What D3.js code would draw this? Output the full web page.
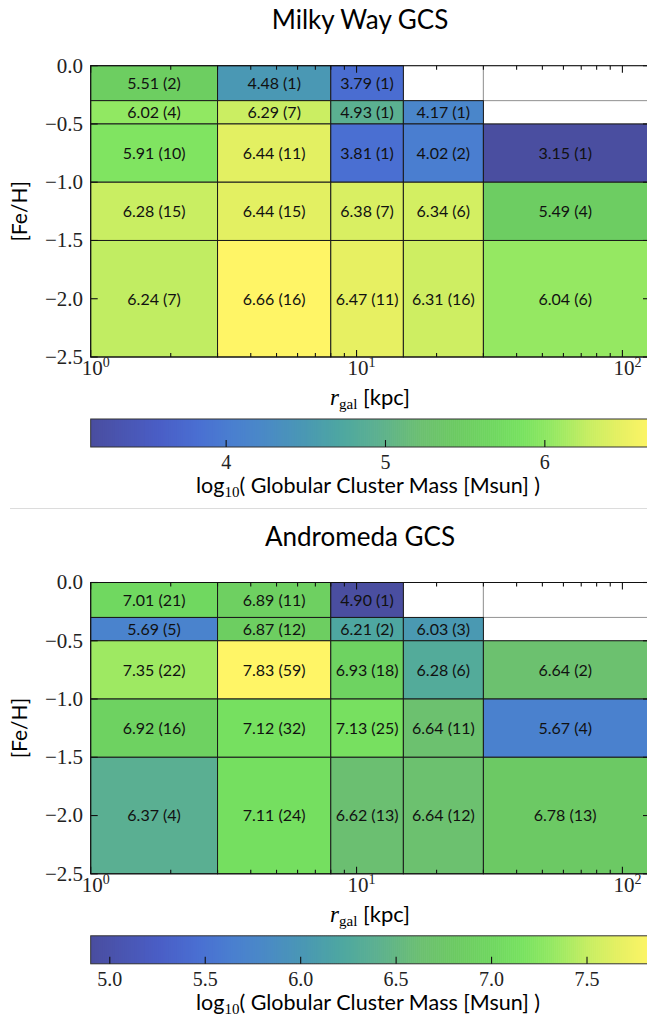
<!DOCTYPE html>
<html><head><meta charset="utf-8">
<script src="https://cdn.jsdelivr.net/npm/d3@7"></script>
<style>
html,body{margin:0;padding:0;background:#fff;overflow:hidden}
svg{display:block}
.sans{font-family:Lato,"Liberation Sans",sans-serif}
.serif{font-family:"Liberation Serif",serif}
</style></head>
<body>
<script>
// ---- data ----
const panelTitles = ["Milky Way GCS", "Andromeda GCS"];
const rEdges = [1, 3, 8, 15, 30, 127];          // r_gal bin edges [kpc] (last = axis limit)
const fehEdges = [0, -0.3, -0.5, -1.0, -1.5, -2.5]; // [Fe/H] bin edges
const mwMass = [
  [5.51, 4.48, 3.79, null, null],
  [6.02, 6.29, 4.93, 4.17, null],
  [5.91, 6.44, 3.81, 4.02, 3.15],
  [6.28, 6.44, 6.38, 6.34, 5.49],
  [6.24, 6.66, 6.47, 6.31, 6.04]
];
const mwCount = [
  [2, 1, 1, null, null],
  [4, 7, 1, 1, null],
  [10, 11, 1, 2, 1],
  [15, 15, 7, 6, 4],
  [7, 16, 11, 16, 6]
];
const m31Mass = [
  [7.01, 6.89, 4.90, null, null],
  [5.69, 6.87, 6.21, 6.03, null],
  [7.35, 7.83, 6.93, 6.28, 6.64],
  [6.92, 7.12, 7.13, 6.64, 5.67],
  [6.37, 7.11, 6.62, 6.64, 6.78]
];
const m31Count = [
  [21, 11, 1, null, null],
  [5, 12, 2, 3, null],
  [22, 59, 18, 6, 2],
  [16, 32, 25, 11, 4],
  [4, 24, 13, 12, 13]
];
const mwCbarTicks = [4, 5, 6];
const m31CbarTicks = [5.0, 5.5, 6.0, 6.5, 7.0, 7.5];
const yTicks = [0.0, -0.5, -1.0, -1.5, -2.0, -2.5];
const xMajorTicks = [1, 10, 100];

// colormap stops (t, colour)
const cmapStops = [
  [0.00, "#4a4ea0"], [0.12, "#4a5ec6"], [0.19, "#4a6fd2"], [0.25, "#4a7fd0"],
  [0.30, "#4a88c8"], [0.38, "#4a98b4"], [0.45, "#4ea8a0"], [0.51, "#5cb090"],
  [0.59, "#6cc070"], [0.65, "#6cca62"], [0.72, "#70d860"], [0.77, "#78e260"],
  [0.82, "#92e862"], [0.89, "#c8ee62"], [0.94, "#e4f062"], [1.00, "#fff566"]
];
const cmap = d3.scaleLinear().domain(cmapStops.map(d => d[0])).range(cmapStops.map(d => d[1])).interpolate(d3.interpolateRgb).clamp(true);

const W = 647, H = 1017;
const svg = d3.select("body").append("svg").attr("width", W).attr("height", H);

const L = 90.7, R = 650;
const x = d3.scaleLog().domain([rEdges[0], rEdges[rEdges.length - 1]]).range([L, R]);

function fmtTick(v) { return (v < 0 ? "\u2212" : "") + Math.abs(v).toFixed(1); }

function drawPanel(off, title, mass, count, cbTicks, cbFmt) {
  const top = 65.7 + off, bot = 357 + off;
  const y = d3.scaleLinear().domain([-2.5, 0]).range([bot, top]);
  const g = svg.append("g");
  const flat = mass.flat().filter(v => v != null);
  const ext = d3.extent(flat);
  const norm = d3.scaleLinear().domain(ext).range([0, 1]);

  // title
  g.append("text").attr("class", "sans").attr("x", 360).attr("y", 29 + off)
    .attr("text-anchor", "middle").attr("font-size", 26).text(title);

  const cells = [];
  mass.forEach((row, i) => row.forEach((v, j) => {
    cells.push({ v, n: count[i][j], x0: rEdges[j], x1: rEdges[j + 1], y0: fehEdges[i + 1], y1: fehEdges[i] });
  }));
  // empty cells first
  g.selectAll("rect.empty").data(cells.filter(c => c.v == null)).join("rect")
    .attr("x", c => x(c.x0)).attr("y", c => y(c.y1))
    .attr("width", c => x(c.x1) - x(c.x0)).attr("height", c => y(c.y0) - y(c.y1))
    .attr("fill", "#fff").attr("stroke", "#999").attr("stroke-width", 1);
  const filled = cells.filter(c => c.v != null);
  g.selectAll("rect.cell").data(filled).join("rect")
    .attr("x", c => x(c.x0)).attr("y", c => y(c.y1))
    .attr("width", c => x(c.x1) - x(c.x0)).attr("height", c => y(c.y0) - y(c.y1))
    .attr("fill", c => cmap(norm(c.v))).attr("stroke", "#1a1a1a").attr("stroke-width", 1);
  g.selectAll("text.cl").data(filled).join("text")
    .attr("class", "sans")
    .attr("x", c => (x(c.x0) + Math.min(x(c.x1), W)) / 2)
    .attr("y", c => (y(c.y0) + y(c.y1)) / 2).attr("dy", "0.36em")
    .attr("text-anchor", "middle").attr("font-size", 16).attr("fill", "#111")
    .text(c => c.v.toFixed(2) + " (" + c.n + ")");

  // frame
  g.append("rect").attr("x", L).attr("y", top).attr("width", R - L).attr("height", bot - top)
    .attr("fill", "none").attr("stroke", "#111").attr("stroke-width", 1);

  // x ticks (inward, top and bottom)
  const minor = [];
  for (let d = 1; d <= 100; d *= 10) for (let k = 2; k <= 9; k++) if (d * k <= rEdges[rEdges.length - 1]) minor.push(d * k);
  const tk = g.append("g").attr("stroke", "#111").attr("stroke-width", 1.1);
  xMajorTicks.forEach(v => {
    tk.append("line").attr("x1", x(v)).attr("x2", x(v)).attr("y1", bot).attr("y2", bot - 7);
    tk.append("line").attr("x1", x(v)).attr("x2", x(v)).attr("y1", top).attr("y2", top + 7);
  });
  minor.forEach(v => {
    tk.append("line").attr("x1", x(v)).attr("x2", x(v)).attr("y1", bot).attr("y2", bot - 4);
    tk.append("line").attr("x1", x(v)).attr("x2", x(v)).attr("y1", top).attr("y2", top + 4);
  });
  yTicks.forEach(v => {
    tk.append("line").attr("x1", L).attr("x2", L + 7).attr("y1", y(v)).attr("y2", y(v));
    tk.append("line").attr("x1", R).attr("x2", R - 7).attr("y1", y(v)).attr("y2", y(v));
  });
  // x tick labels
  xMajorTicks.forEach(v => {
    const t = g.append("text").attr("class", "serif").attr("x", x(v) + 5).attr("y", bot + 18)
      .attr("text-anchor", "middle").attr("font-size", 21).attr("fill", "#222");
    t.append("tspan").text("10");
    t.append("tspan").attr("font-size", 14).attr("dy", -8).text(String(Math.round(Math.log10(v))));
  });
  // y tick labels
  yTicks.forEach(v => {
    g.append("text").attr("class", "serif").attr("x", 83).attr("y", y(v)).attr("dy", "0.33em")
      .attr("text-anchor", "end").attr("font-size", 21).attr("fill", "#222").text(fmtTick(v));
  });
  // y label
  g.append("text").attr("class", "sans").attr("transform", `translate(${27},${(top + bot) / 2}) rotate(-90)`)
    .attr("text-anchor", "middle").attr("font-size", 21).text("[Fe/H]");
  // x label
  const xl = g.append("text").attr("x", 370).attr("y", 405 + off).attr("text-anchor", "middle").attr("font-size", 22);
  xl.append("tspan").attr("class", "serif").attr("font-style", "italic").attr("font-size", 23).text("r");
  xl.append("tspan").attr("class", "serif").attr("font-size", 15).attr("dy", 4).text("gal");
  xl.append("tspan").attr("class", "sans").attr("dy", -4).text(" [kpc]");

  // colorbar
  const cTop = 419 + off, cBot = 447 + off;
  const cx = d3.scaleLinear().domain(ext).range([L, R]);
  const nSteps = 280;
  const steps = d3.range(nSteps).map(i => ext[0] + (ext[1] - ext[0]) * i / nSteps);
  g.append("g").selectAll("rect").data(steps).join("rect")
    .attr("x", v => cx(v)).attr("y", cTop).attr("width", (R - L) / nSteps + 0.6).attr("height", cBot - cTop)
    .attr("fill", v => cmap(norm(v)));
  g.append("rect").attr("x", L).attr("y", cTop).attr("width", R - L).attr("height", cBot - cTop)
    .attr("fill", "none").attr("stroke", "#333").attr("stroke-width", 1);
  cbTicks.forEach(v => {
    g.append("line").attr("x1", cx(v)).attr("x2", cx(v)).attr("y1", cBot).attr("y2", cBot - 7)
      .attr("stroke", "#111").attr("stroke-width", 1.1);
    g.append("text").attr("class", "serif").attr("x", cx(v)).attr("y", cBot + 22)
      .attr("text-anchor", "middle").attr("font-size", 20).attr("fill", "#222").text(cbFmt(v));
  });
  const cl = g.append("text").attr("x", 368).attr("y", 493 + off).attr("text-anchor", "middle").attr("font-size", 21.5);
  cl.append("tspan").attr("class", "sans").text("log");
  cl.append("tspan").attr("class", "serif").attr("font-size", 15).attr("dy", 4).text("10");
  cl.append("tspan").attr("class", "sans").attr("dy", -4).text("( Globular Cluster Mass [Msun] )");
}

drawPanel(0, panelTitles[0], mwMass, mwCount, mwCbarTicks, v => String(v));
svg.append("line").attr("x1", 10).attr("x2", W).attr("y1", 508.5).attr("y2", 508.5)
  .attr("stroke", "#dcdcdc").attr("stroke-width", 1);
drawPanel(516.8, panelTitles[1], m31Mass, m31Count, m31CbarTicks, v => v.toFixed(1));
</script>
</body></html>
